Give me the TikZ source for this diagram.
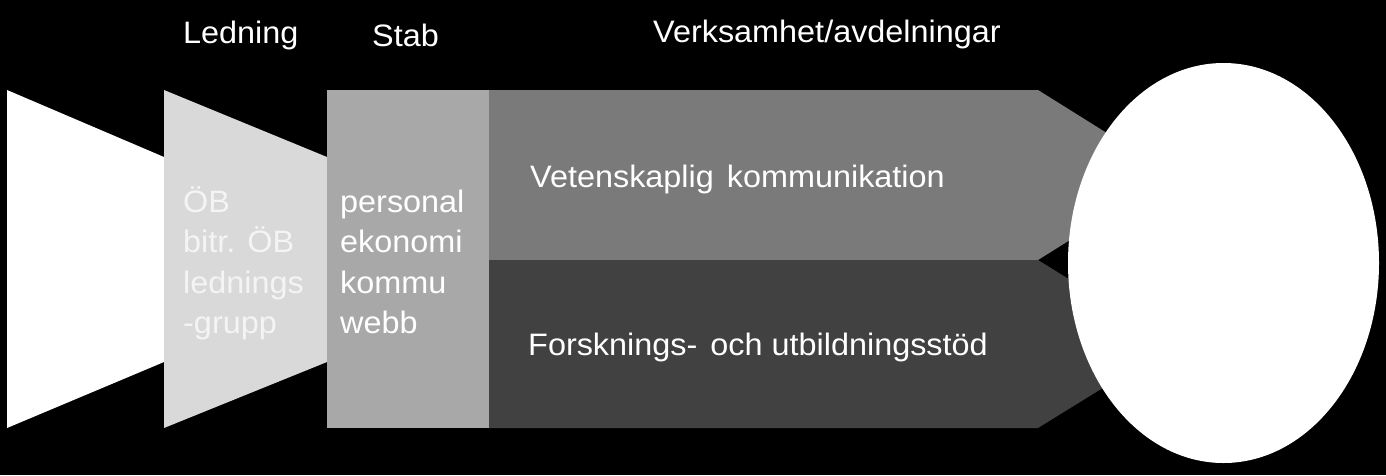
\documentclass[tikz,border=0pt]{standalone}
\usepackage{fontspec}
\setmainfont{Liberation Sans}
\newfontfamily\wideSans[FakeStretch=1.045]{Liberation Sans}
\usetikzlibrary{shapes.geometric}
\definecolor{gLight}{HTML}{D9D9D9}
\definecolor{gMid}{HTML}{A8A8A8}
\definecolor{gUp}{HTML}{7A7A7A}
\definecolor{gLow}{HTML}{414141}
\definecolor{txtLight}{HTML}{F4F4F4}
\begin{document}
\begin{tikzpicture}[x=1pt,y=-1pt,
  lbl/.style={anchor=base west,inner sep=0pt,text=white,font=\wideSans\fontsize{31}{37}\selectfont},
  shp/.style={draw=none}]
\fill[black] (0,0) rectangle (1386,475);
\useasboundingbox (0,0) rectangle (1386,475);
% shapes
\fill[white] (7,90) -- (164,157) -- (164,362) -- (7,428) -- cycle;
\fill[gLight] (164,90) -- (327,157) -- (327,362) -- (164,428) -- cycle;
\fill[gMid] (327,90) rectangle (489,428);
\fill[gUp] (489,90) -- (1038,90) -- (1174,175) -- (1038,260) -- (489,260) -- cycle;
\fill[gLow] (489,260) -- (1038,260) -- (1174,344) -- (1038,428) -- (489,428) -- cycle;
\node[shp,ellipse,fill=white,minimum width=311pt,minimum height=400pt,inner sep=0pt] (goal) at (1223.5,263) {};
% headers
\node[lbl] (hLed) at (183,43) {Ledning};
\node[lbl] (hStab) at (372,46) {Stab};
\node[lbl] (hVerk) at (653,42) {Verksamhet/avdelningar};
% ledning text
\node[lbl,text=txtLight] (l1) at (183,212) {ÖB};
\node[lbl,text=txtLight] (l2) at (183,252.5) {bitr. ÖB};
\node[lbl,text=txtLight] (l3) at (183,293) {lednings};
\node[lbl,text=txtLight] (l4) at (183,333.5) {-grupp};
% stab text
\node[lbl] (s1) at (340,212) {personal};
\node[lbl] (s2) at (340,252.5) {ekonomi};
\node[lbl] (s3) at (340,293) {kommu};
\node[lbl] (s4) at (340,333.5) {webb};
% verksamhet
\node[lbl] (v1) at (530,187) {Vetenskaplig\hspace{4pt} kommunikation};
\node[lbl] (v2) at (528,355) {Forsknings-\hspace{4pt} och utbildningsstöd};
\end{tikzpicture}
\end{document}
